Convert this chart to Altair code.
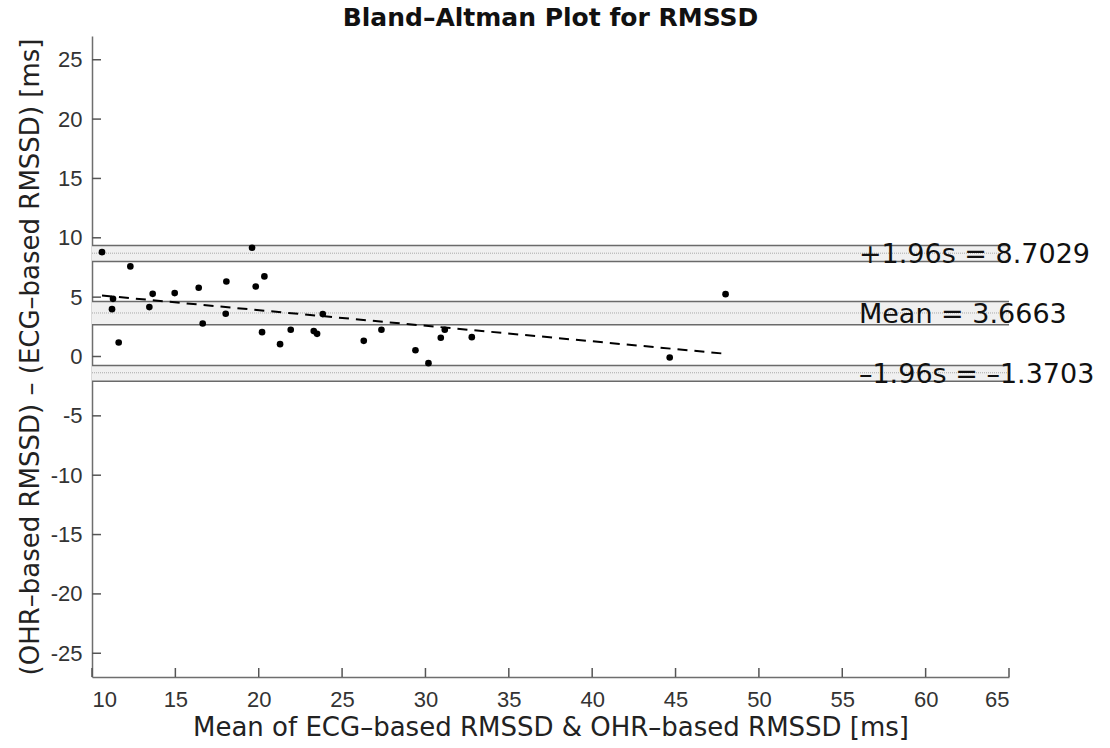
import altair as alt
import pandas as pd

# Data
mean_x = [10.6, 12.3, 11.26, 11.2, 11.6, 13.44, 13.64, 14.96, 16.4, 16.64,
          18.06, 18.02, 19.6, 19.82, 20.34, 20.2, 21.28, 21.92, 23.3, 23.5,
          23.84, 26.3, 27.36, 29.4, 30.18, 30.92, 31.16, 32.78, 44.65, 48.0]
diff_y = [8.79, 7.59, 4.86, 3.99, 1.18, 4.16, 5.28, 5.34, 5.79, 2.78,
          6.32, 3.6, 9.16, 5.9, 6.75, 2.05, 1.04, 2.25, 2.14, 1.91,
          3.57, 1.32, 2.25, 0.53, -0.56, 1.58, 2.25, 1.63, -0.08, 5.25]

band_center = [8.7029, 3.6663, -1.3703]
band_low = [8.01, 2.67, -2.08]
band_high = [9.36, 4.64, -0.76]
band_label = ["+1.96s = 8.7029", "Mean = 3.6663", "\u20131.96s = \u20131.3703"]
label_x = [56, 56, 56]

trend_x = [10.6, 48.0]
trend_y = [5.14, 0.23]

x_ticks = [10, 15, 20, 25, 30, 35, 40, 45, 50, 55, 60, 65]
y_ticks = [-25, -20, -15, -10, -5, 0, 5, 10, 15, 20, 25]

W, H = 917, 641
FONT = "DejaVu Sans"
TICKFONT = "Liberation Sans"

pts = pd.DataFrame({"x": mean_x, "y": diff_y})
bands = pd.DataFrame({"c": band_center, "lo": band_low, "hi": band_high,
                      "label": band_label, "lx": label_x})
trend = pd.DataFrame({"x": trend_x, "y": trend_y})
xt = pd.DataFrame({"x": x_ticks})
yt = pd.DataFrame({"y": y_ticks})

xscale = alt.Scale(domain=[10, 65], nice=False, zero=False)
yscale = alt.Scale(domain=[-27, 27], nice=False, zero=False)

xaxis = alt.Axis(values=x_ticks, labelExpr="'' + datum.value",
                 labelFontSize=22, labelFont=TICKFONT, labelColor="#333333",
                 labelPadding=12, titlePadding=4,
                 title="Mean of ECG\u2013based RMSSD & OHR\u2013based RMSSD [ms]")
yaxis = alt.Axis(values=y_ticks, labelExpr="'' + datum.value",
                 labelFontSize=22, labelFont=TICKFONT, labelColor="#333333",
                 labelPadding=10, titlePadding=7,
                 title="(OHR\u2013based RMSSD) \u2013 (ECG\u2013based RMSSD) [ms]")

band_rect = alt.Chart(bands).mark_rect(color="#f0f0f0").encode(
    x=alt.value(0), x2=alt.value(W),
    y=alt.Y("lo:Q", scale=yscale, axis=yaxis), y2="hi:Q")
band_lo = alt.Chart(bands).mark_rule(color="#6a6a6a", strokeWidth=1.5).encode(
    x=alt.value(0), x2=alt.value(W), y=alt.Y("lo:Q", scale=yscale, axis=yaxis))
band_hi = alt.Chart(bands).mark_rule(color="#6a6a6a", strokeWidth=1.5).encode(
    x=alt.value(0), x2=alt.value(W), y=alt.Y("hi:Q", scale=yscale, axis=yaxis))
band_mid = alt.Chart(bands).mark_rule(color="#a8a8a8", strokeWidth=1,
                                      strokeDash=[1, 1]).encode(
    x=alt.value(0), x2=alt.value(W), y=alt.Y("c:Q", scale=yscale, axis=yaxis))

labels = alt.Chart(bands).mark_text(font=FONT, fontSize=27, align="left",
                                    baseline="middle", color="#111111", dy=2).encode(
    x=alt.X("lx:Q", scale=xscale, axis=xaxis),
    y=alt.Y("c:Q", scale=yscale, axis=yaxis),
    text="label:N")

trend_line = alt.Chart(trend).mark_line(color="black", strokeWidth=2,
                                        strokeDash=[10, 7]).encode(
    x=alt.X("x:Q", scale=xscale, axis=xaxis), y=alt.Y("y:Q", scale=yscale, axis=yaxis))

points = alt.Chart(pts).mark_circle(color="black", opacity=1, size=44).encode(
    x=alt.X("x:Q", scale=xscale, axis=xaxis), y=alt.Y("y:Q", scale=yscale, axis=yaxis))

ytick_marks = alt.Chart(yt).mark_rule(color="#555555", strokeWidth=1.5).encode(
    x=alt.value(0), x2=alt.value(9), y=alt.Y("y:Q", scale=yscale, axis=yaxis))
xtick_marks = alt.Chart(xt).mark_rule(color="#555555", strokeWidth=1.5).encode(
    x=alt.X("x:Q", scale=xscale, axis=xaxis), y=alt.value(H), y2=alt.value(H - 9))

chart = alt.layer(band_rect, band_mid, band_lo, band_hi, trend_line, points,
                  ytick_marks, xtick_marks, labels).properties(
    width=W, height=H,
    background="white",
    title=alt.TitleParams("Bland\u2013Altman Plot for RMSSD", font=FONT, fontSize=25,
                          fontWeight="bold", color="#111111", anchor="middle",
                          offset=5),
    autosize=alt.AutoSizeParams(type="none"),
    padding={"left": 92, "top": 36, "right": 101, "bottom": 71},
).configure_view(stroke=None).configure_axis(
    grid=False, ticks=False, domainColor="#6e6e6e", domainWidth=1.5,
    titleFont=FONT, titleFontSize=26, titleFontWeight="normal", titleColor="#222222",
)

chart.save("out.html", embed_options={"renderer": "svg", "actions": False})
